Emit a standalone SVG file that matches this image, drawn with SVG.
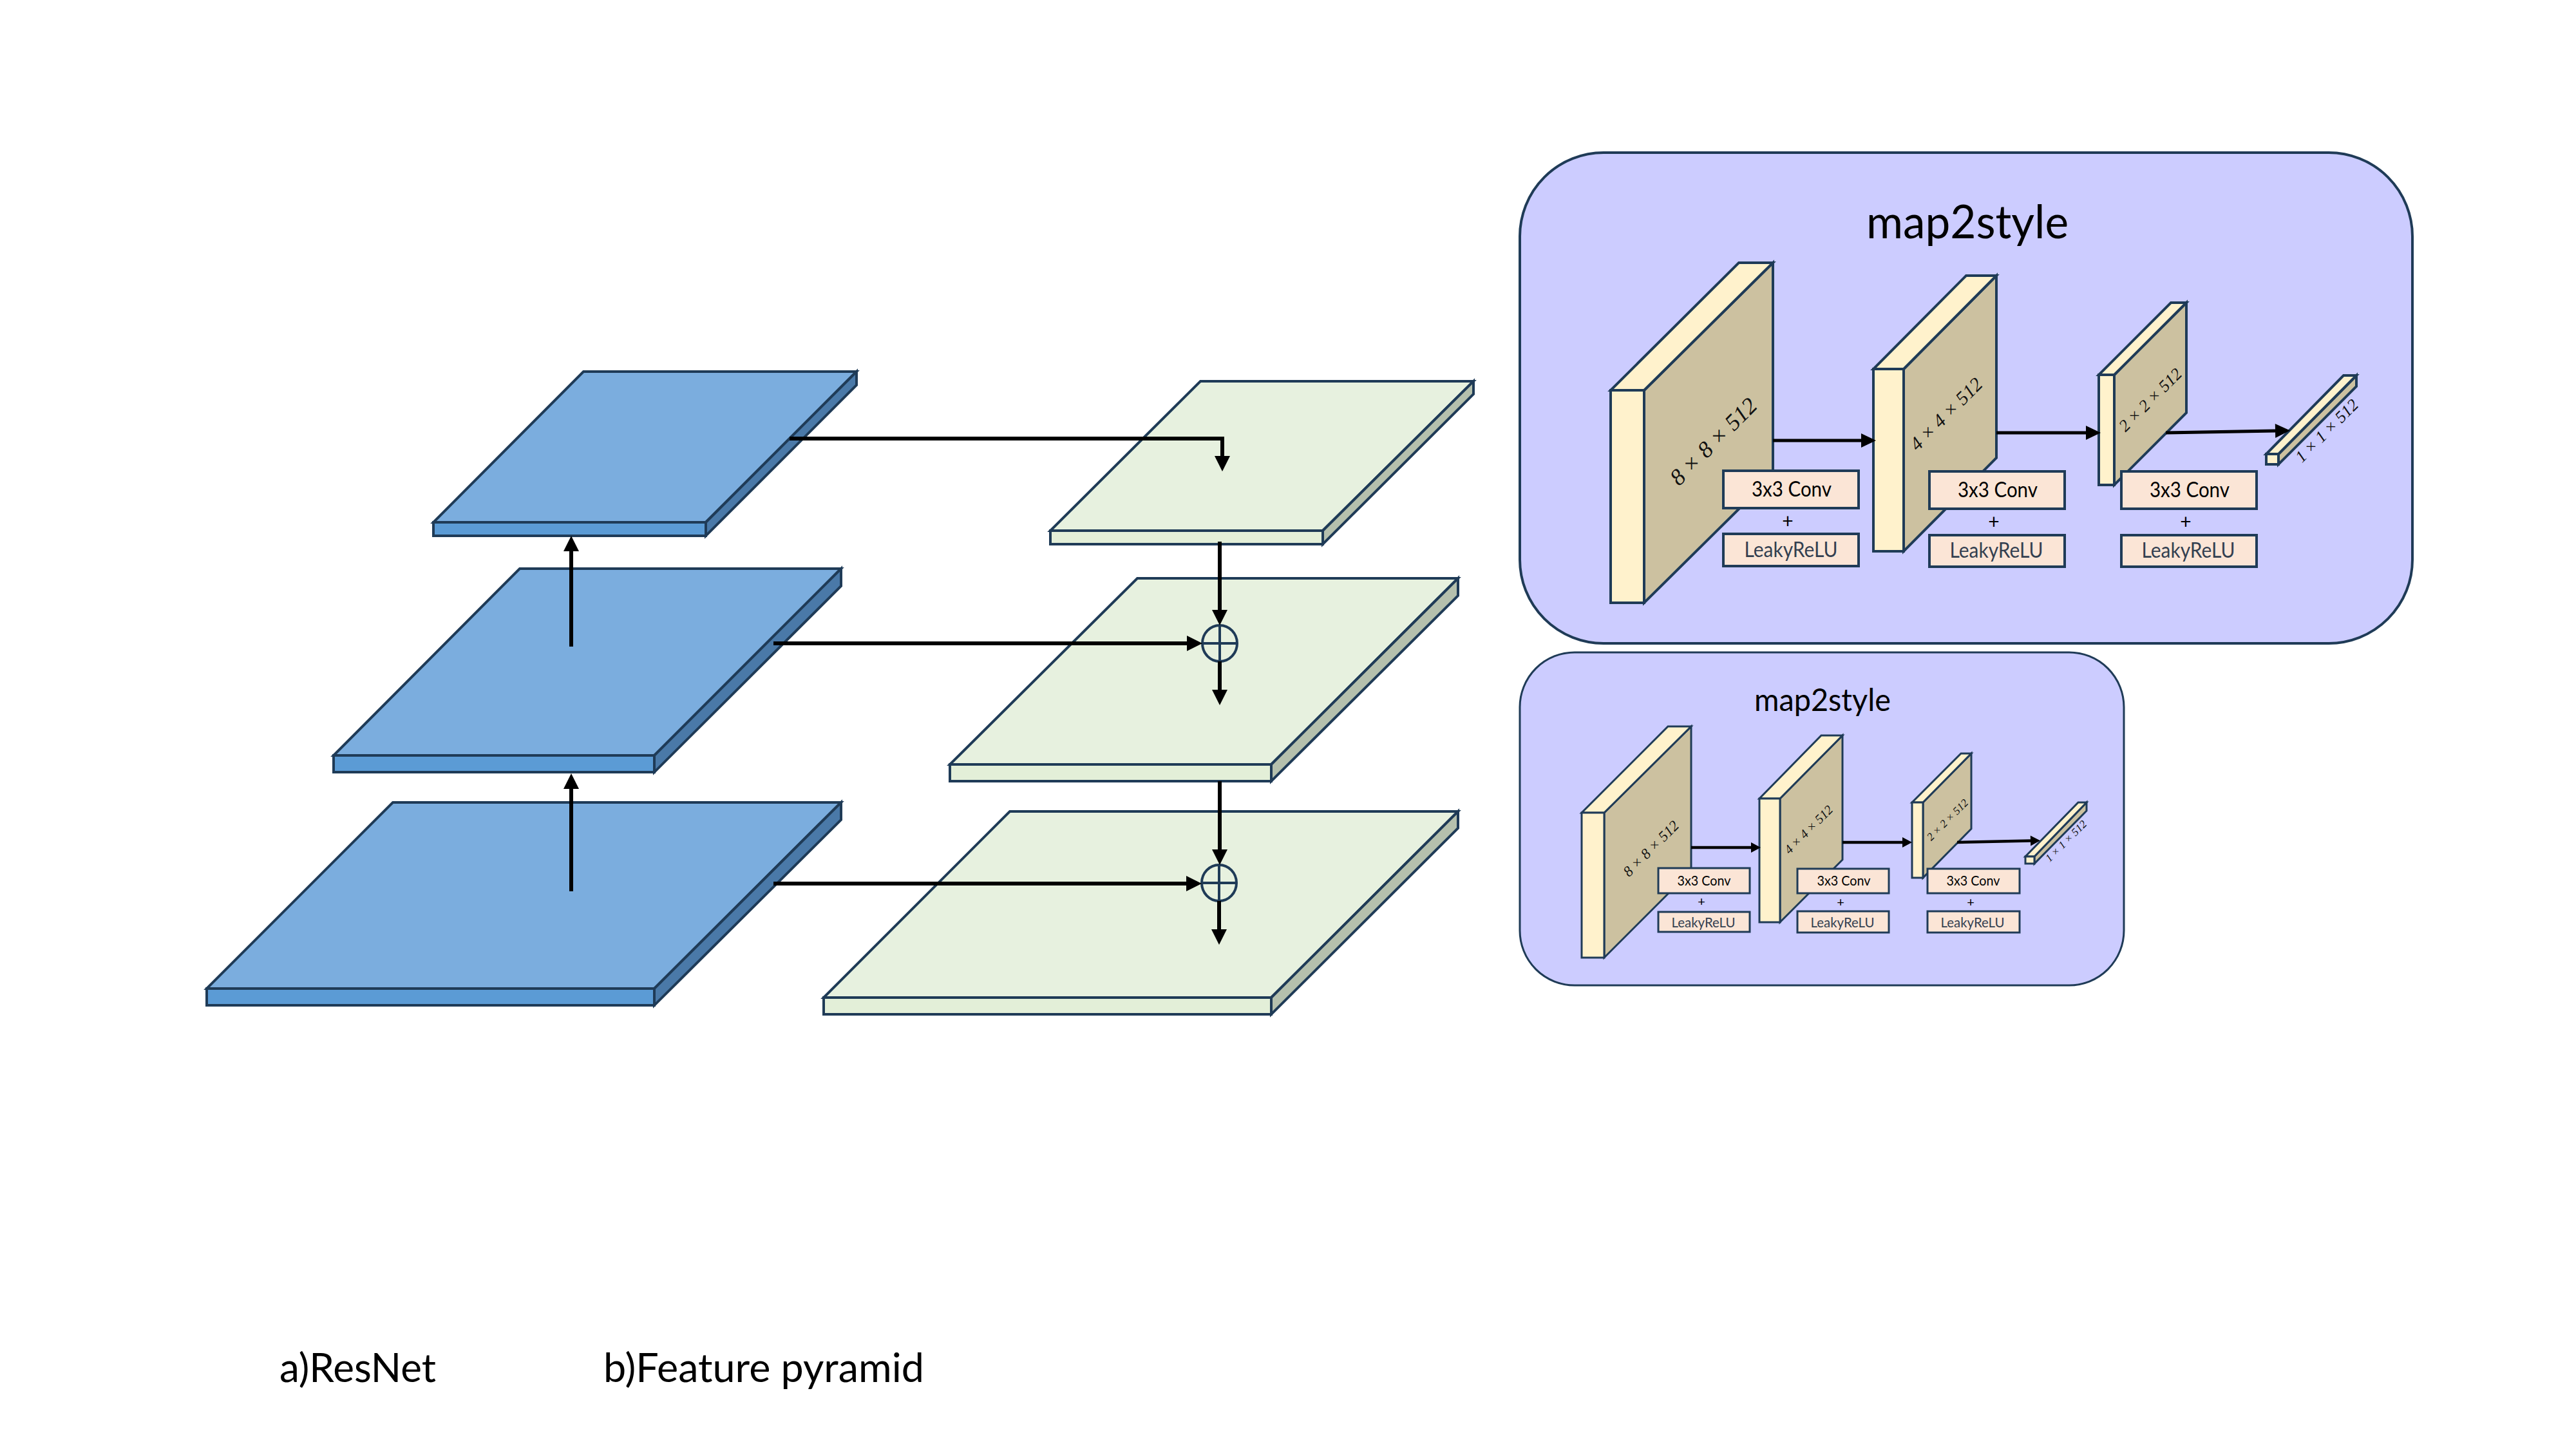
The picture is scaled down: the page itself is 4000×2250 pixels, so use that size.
<svg xmlns="http://www.w3.org/2000/svg" width="4000" height="2250" viewBox="0 0 4000 2250">
<style>
.ln{stroke:#1f3b57;stroke-width:4;stroke-linejoin:miter}
.th{stroke-width:3}
.bt{fill:#7badde}.bf{fill:#5b9bd5}.bs{fill:#4a79a8}
.gt{fill:#e7f1df}.gf{fill:#e3efd8}.gs{fill:#b5c0ad}
.panel{fill:#ccccff;stroke:#1f3b57}
.yt{fill:#fff2cc}.ys{fill:#ccc1a0}
.box{fill:#fbe5d6}
.t{font-family:Lato,"Open Sans",sans-serif;fill:#000;text-anchor:middle}
.lk{fill:#333f50}
.dim{font-family:"Liberation Serif",serif;font-style:italic;fill:#111;text-anchor:middle}
.c{stroke:#000;stroke-width:6;fill:none}
.c2{stroke:#000;stroke-width:4.5;fill:none}
.m{stroke:#000;stroke-width:5;fill:none}
.lab{font-family:Lato,"Open Sans",sans-serif;fill:#000}
</style>
<defs>
<marker id="ah" markerUnits="userSpaceOnUse" markerWidth="26" markerHeight="26" refX="0" refY="12" orient="auto" overflow="visible"><path d="M0,0L24,12L0,24z" fill="#000"/></marker>
<marker id="am" markerUnits="userSpaceOnUse" markerWidth="26" markerHeight="26" refX="0" refY="11" orient="auto" overflow="visible"><path d="M0,0L23,11L0,22z" fill="#000"/></marker>
<marker id="as" markerUnits="userSpaceOnUse" markerWidth="18" markerHeight="18" refX="0" refY="8" orient="auto" overflow="visible"><path d="M0,0L15,8L0,16z" fill="#000"/></marker>
</defs>

<g id="blue1" class="ln"><path class="bt" d="M906,577H1330L1096,811H673z"/><path class="bf" d="M673,811H1096V832H673z"/><path class="bs" d="M1096,811L1330,577V598L1096,832z"/></g>
<g id="blue2" class="ln"><path class="bt" d="M807,883H1306L1016,1173H518z"/><path class="bf" d="M518,1173H1016V1199H518z"/><path class="bs" d="M1016,1173L1306,883V910L1016,1199z"/></g>
<g id="blue3" class="ln"><path class="bt" d="M610,1246H1306L1016,1535H321z"/><path class="bf" d="M321,1535H1016V1561H321z"/><path class="bs" d="M1016,1535L1306,1246V1273L1016,1561z"/></g>
<g id="green1" class="ln"><path class="gt" d="M1864,592H2288L2054,824H1631z"/><path class="gf" d="M1631,824H2054V845H1631z"/><path class="gs" d="M2054,824L2288,592V612L2054,845z"/></g>
<g id="green2" class="ln"><path class="gt" d="M1766,898H2264L1974,1187H1475z"/><path class="gf" d="M1475,1187H1974V1213H1475z"/><path class="gs" d="M1974,1187L2264,898V925L1974,1213z"/></g>
<g id="green3" class="ln"><path class="gt" d="M1568,1260H2264L1974,1549H1279z"/><path class="gf" d="M1279,1549H1974V1575H1279z"/><path class="gs" d="M1974,1549L2264,1260V1286L1974,1575z"/></g>
<g id="sum1" class="ln" fill="none"><ellipse cx="1894" cy="999" rx="27" ry="28"/><path d="M1867,999H1921M1894,971V1027"/></g>
<g id="sum2" class="ln" fill="none"><ellipse cx="1893" cy="1371" rx="27" ry="28"/><path d="M1866,1371H1920M1893,1343V1399"/></g>

<g id="connectors">
<path class="c" marker-end="url(#ah)" d="M887,1004V856"/>
<path class="c" marker-end="url(#ah)" d="M887,1384V1225"/>
<path class="c" marker-end="url(#ah)" d="M1226,681H1898V708"/>
<path class="c" marker-end="url(#ah)" d="M1201,999H1843"/>
<path class="c" marker-end="url(#ah)" d="M1201,1372H1842"/>
<path class="c" marker-end="url(#ah)" d="M1894,841V947"/>
<path class="c" marker-end="url(#ah)" d="M1894,1027V1071"/>
<path class="c" marker-end="url(#ah)" d="M1894,1213V1319"/>
<path class="c" marker-end="url(#ah)" d="M1893,1399V1443"/>
</g>

<g id="map2style-large">
<rect class="panel" x="2360" y="237" width="1386" height="762" rx="130" stroke-width="4"/>
<text class="t" x="3055" y="370" font-size="72" textLength="314" lengthAdjust="spacingAndGlyphs">map2style</text>
<g id="l-block1" class="ln"><path class="ys" d="M2553,606L2753,408V738L2553,936z"/><path class="yt" d="M2553,606L2753,408H2700L2501,606z"/><rect class="yt" x="2501" y="606" width="52" height="330"/><text class="dim" stroke="none" transform="translate(2669,694) rotate(-45)" font-size="36">8 × 8 × 512</text></g>
<g id="l-block2" class="ln"><path class="ys" d="M2956,573L3100,428V711L2956,856z"/><path class="yt" d="M2956,573L3100,428H3053L2909,573z"/><rect class="yt" x="2909" y="573" width="47" height="283"/><text class="dim" stroke="none" transform="translate(3029,650) rotate(-45)" font-size="30">4 × 4 × 512</text></g>
<g id="l-block3" class="ln"><path class="ys" d="M3283,582L3395,470V641L3283,753z"/><path class="yt" d="M3283,582L3395,470H3371L3259,582z"/><rect class="yt" x="3259" y="582" width="24" height="171"/><text class="dim" stroke="none" transform="translate(3345,627) rotate(-45)" font-size="26">2 × 2 × 512</text></g>
<g id="l-block4" class="ln"><path class="ys" d="M3538,705L3659,583V600L3538,721z"/><path class="yt" d="M3538,705L3659,583H3639L3519,705z"/><rect class="yt" x="3519" y="705" width="19" height="16"/></g>
<text class="dim" transform="translate(3619,675) rotate(-45)" font-size="26">1 × 1 × 512</text>
<g id="l-arrows"><path class="m" marker-end="url(#am)" d="M2753,684H2890"/><path class="m" marker-end="url(#am)" d="M3100,672H3239"/><path class="m" marker-end="url(#am)" d="M3363,672L3533,669"/></g>
<g id="l-ops1"><rect class="box ln" x="2676" y="731" width="210" height="58"/><text class="t" x="2782" y="771" font-size="33" textLength="124" lengthAdjust="spacingAndGlyphs">3x3 Conv</text><text class="t" x="2776" y="820" font-size="30">+</text><rect class="box ln" x="2676" y="829" width="210" height="50"/><text class="t lk" x="2781" y="865" font-size="33" textLength="145" lengthAdjust="spacingAndGlyphs">LeakyReLU</text></g>
<g id="l-ops2"><rect class="box ln" x="2996" y="732" width="210" height="58"/><text class="t" x="3102" y="772" font-size="33" textLength="124" lengthAdjust="spacingAndGlyphs">3x3 Conv</text><text class="t" x="3096" y="821" font-size="30">+</text><rect class="box ln" x="2996" y="831" width="210" height="49"/><text class="t lk" x="3100" y="866" font-size="33" textLength="145" lengthAdjust="spacingAndGlyphs">LeakyReLU</text></g>
<g id="l-ops3"><rect class="box ln" x="3294" y="732" width="210" height="58"/><text class="t" x="3400" y="772" font-size="33" textLength="124" lengthAdjust="spacingAndGlyphs">3x3 Conv</text><text class="t" x="3394" y="821" font-size="30">+</text><rect class="box ln" x="3294" y="831" width="210" height="49"/><text class="t lk" x="3398" y="866" font-size="33" textLength="145" lengthAdjust="spacingAndGlyphs">LeakyReLU</text></g>
</g>

<g id="map2style-small">
<rect class="panel" x="2360" y="1013" width="938" height="517" rx="85" stroke-width="3"/>
<text class="t" x="2830" y="1104" font-size="49" textLength="212" lengthAdjust="spacingAndGlyphs">map2style</text>
<g id="s-block1" class="ln th"><path class="ys" d="M2491,1262L2626,1128V1352L2491,1487z"/><path class="yt" d="M2491,1262L2626,1128H2590L2456,1262z"/><rect class="yt" x="2456" y="1262" width="35" height="225"/><text class="dim" stroke="none" transform="translate(2569,1323) rotate(-45)" font-size="23">8 × 8 × 512</text></g>
<g id="s-block2" class="ln th"><path class="ys" d="M2764,1240L2861,1142V1335L2764,1432z"/><path class="yt" d="M2764,1240L2861,1142H2828L2732,1240z"/><rect class="yt" x="2732" y="1240" width="32" height="192"/><text class="dim" stroke="none" transform="translate(2813,1293) rotate(-45)" font-size="20">4 × 4 × 512</text></g>
<g id="s-block3" class="ln th"><path class="ys" d="M2986,1246L3061,1170V1287L2986,1363z"/><path class="yt" d="M2986,1246L3061,1170H3045L2969,1246z"/><rect class="yt" x="2969" y="1246" width="17" height="117"/><text class="dim" stroke="none" transform="translate(3028,1277) rotate(-45)" font-size="17">2 × 2 × 512</text></g>
<g id="s-block4" class="ln th"><path class="ys" d="M3159,1330L3240,1246V1259L3159,1341z"/><path class="yt" d="M3159,1330L3240,1246H3227L3145,1330z"/><rect class="yt" x="3145" y="1330" width="14" height="11"/></g>
<text class="dim" transform="translate(3212,1310) rotate(-45)" font-size="17">1 × 1 × 512</text>
<g id="s-arrows"><path class="c2" marker-end="url(#as)" d="M2626,1316H2719"/><path class="c2" marker-end="url(#as)" d="M2861,1308H2954"/><path class="c2" marker-end="url(#as)" d="M3039,1308L3153,1305.5"/></g>
<g id="s-ops1"><rect class="box ln th" x="2575" y="1348" width="142" height="39"/><text class="t" x="2646" y="1375" font-size="22" textLength="83" lengthAdjust="spacingAndGlyphs">3x3 Conv</text><text class="t" x="2642" y="1407" font-size="20">+</text><rect class="box ln th" x="2575" y="1416" width="142" height="31"/><text class="t lk" x="2645" y="1440" font-size="22" textLength="99" lengthAdjust="spacingAndGlyphs">LeakyReLU</text></g>
<g id="s-ops2"><rect class="box ln th" x="2791" y="1349" width="142" height="38"/><text class="t" x="2863" y="1375" font-size="22" textLength="83" lengthAdjust="spacingAndGlyphs">3x3 Conv</text><text class="t" x="2858" y="1408" font-size="20">+</text><rect class="box ln th" x="2791" y="1415" width="142" height="33"/><text class="t lk" x="2861" y="1440" font-size="22" textLength="99" lengthAdjust="spacingAndGlyphs">LeakyReLU</text></g>
<g id="s-ops3"><rect class="box ln th" x="2993" y="1349" width="143" height="38"/><text class="t" x="3064" y="1375" font-size="22" textLength="83" lengthAdjust="spacingAndGlyphs">3x3 Conv</text><text class="t" x="3060" y="1408" font-size="20">+</text><rect class="box ln th" x="2993" y="1415" width="143" height="33"/><text class="t lk" x="3063" y="1440" font-size="22" textLength="99" lengthAdjust="spacingAndGlyphs">LeakyReLU</text></g>
</g>

<text class="lab" x="434" y="2146" font-size="61" textLength="243" lengthAdjust="spacingAndGlyphs">a)ResNet</text>
<text class="lab" x="937" y="2146" font-size="61" textLength="498" lengthAdjust="spacingAndGlyphs">b)Feature pyramid</text>
</svg>
